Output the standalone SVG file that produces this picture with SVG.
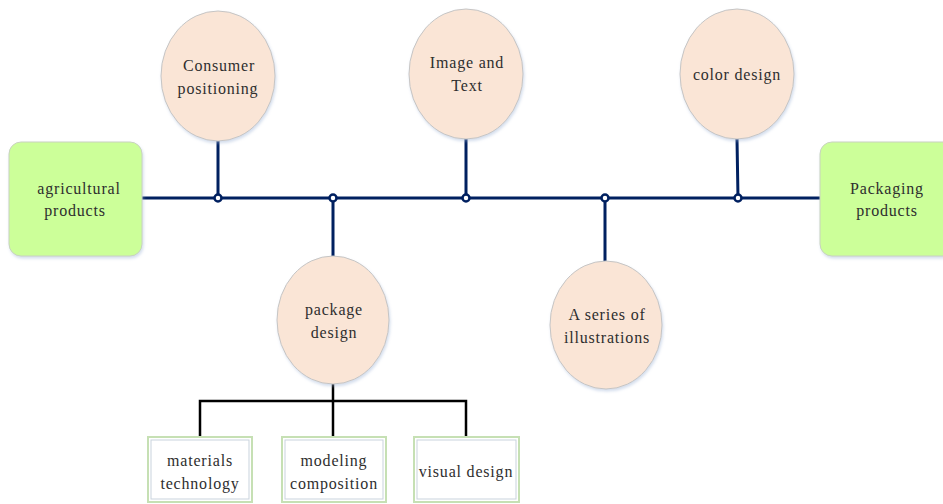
<svg xmlns="http://www.w3.org/2000/svg" width="943" height="504" viewBox="0 0 943 504">
  <defs>
    <filter id="shadow" x="-20%" y="-20%" width="140%" height="140%">
      <feDropShadow dx="1" dy="2" stdDeviation="1.5" flood-color="#9db3d6" flood-opacity="0.45"/>
    </filter>
  </defs>
  <style>
    .end { fill: #ccff99; stroke: #c9d2c0; stroke-width: 1; filter: url(#shadow); }
    .bubble { fill: #fae5d6; stroke: #c5c5c5; stroke-width: 1; filter: url(#shadow); }
    .leaf-outer { fill: #ffffff; stroke: #c6e0b4; stroke-width: 2; }
    .leaf-inner { fill: none; stroke: #c9d3dd; stroke-width: 1; }
    .spine { stroke: #002060; stroke-width: 3; fill: none; stroke-linecap: round; }
    .dot { fill: #ffffff; stroke: #002060; stroke-width: 2.5; }
    .tree { stroke: #000000; stroke-width: 2.5; fill: none; }
    text { font-family: "Liberation Serif", "Times New Roman", serif; font-size: 16px; fill: #2e2e2e; text-anchor: middle; letter-spacing: 0.8px; }
  </style>

  <!-- connectors -->
  <g id="connectors">
    <line class="spine" x1="142" y1="198" x2="820" y2="198"/>
    <line class="spine" x1="218" y1="141" x2="218" y2="198"/>
    <line class="spine" x1="466" y1="139" x2="466" y2="198"/>
    <line class="spine" x1="737" y1="139" x2="738" y2="198"/>
    <line class="spine" x1="333" y1="198" x2="333" y2="256"/>
    <line class="spine" x1="605" y1="198" x2="605" y2="261"/>
    <circle class="dot" cx="218" cy="198" r="3.5"/>
    <circle class="dot" cx="333" cy="198" r="3.5"/>
    <circle class="dot" cx="466" cy="198" r="3.5"/>
    <circle class="dot" cx="605" cy="198" r="3.5"/>
    <circle class="dot" cx="738" cy="198" r="3.5"/>
    <polyline class="tree" points="333,384 333,401"/>
    <polyline class="tree" points="200,437 200,401 466,401 466,437"/>
    <line class="tree" x1="333" y1="401" x2="333" y2="437"/>
  </g>

  <!-- end nodes -->
  <g id="agricultural-products">
    <rect class="end" x="9" y="142" width="133" height="114" rx="12"/>
    <text x="79" y="194">agricultural</text>
    <text x="75" y="216">products</text>
  </g>
  <g id="packaging-products">
    <rect class="end" x="820" y="142" width="140" height="114" rx="12"/>
    <text x="887" y="194">Packaging</text>
    <text x="887" y="216">products</text>
  </g>

  <!-- bubble nodes -->
  <g id="consumer-positioning">
    <ellipse class="bubble" cx="218" cy="76" rx="57" ry="65"/>
    <text x="219" y="71">Consumer</text>
    <text x="218" y="94">positioning</text>
  </g>
  <g id="image-and-text">
    <ellipse class="bubble" cx="466" cy="74" rx="57" ry="65"/>
    <text x="467" y="68">Image and</text>
    <text x="467" y="91">Text</text>
  </g>
  <g id="color-design">
    <ellipse class="bubble" cx="737" cy="74" rx="57" ry="65"/>
    <text x="737" y="80">color design</text>
  </g>
  <g id="package-design">
    <ellipse class="bubble" cx="333" cy="320" rx="56" ry="64"/>
    <text x="334" y="315">package</text>
    <text x="334" y="338">design</text>
  </g>
  <g id="series-of-illustrations">
    <ellipse class="bubble" cx="606" cy="325" rx="56" ry="64"/>
    <text x="607" y="320">A series of</text>
    <text x="607" y="343">illustrations</text>
  </g>

  <!-- leaf nodes -->
  <g id="materials-technology">
    <rect class="leaf-outer" x="148" y="437" width="104" height="65"/>
    <rect class="leaf-inner" x="151" y="440" width="98" height="59"/>
    <text x="200" y="466">materials</text>
    <text x="200" y="489">technology</text>
  </g>
  <g id="modeling-composition">
    <rect class="leaf-outer" x="282" y="437" width="104" height="65"/>
    <rect class="leaf-inner" x="285" y="440" width="98" height="59"/>
    <text x="334" y="466">modeling</text>
    <text x="334" y="489">composition</text>
  </g>
  <g id="visual-design">
    <rect class="leaf-outer" x="414" y="437" width="105" height="65"/>
    <rect class="leaf-inner" x="417" y="440" width="99" height="59"/>
    <text x="466" y="477">visual design</text>
  </g>
</svg>
